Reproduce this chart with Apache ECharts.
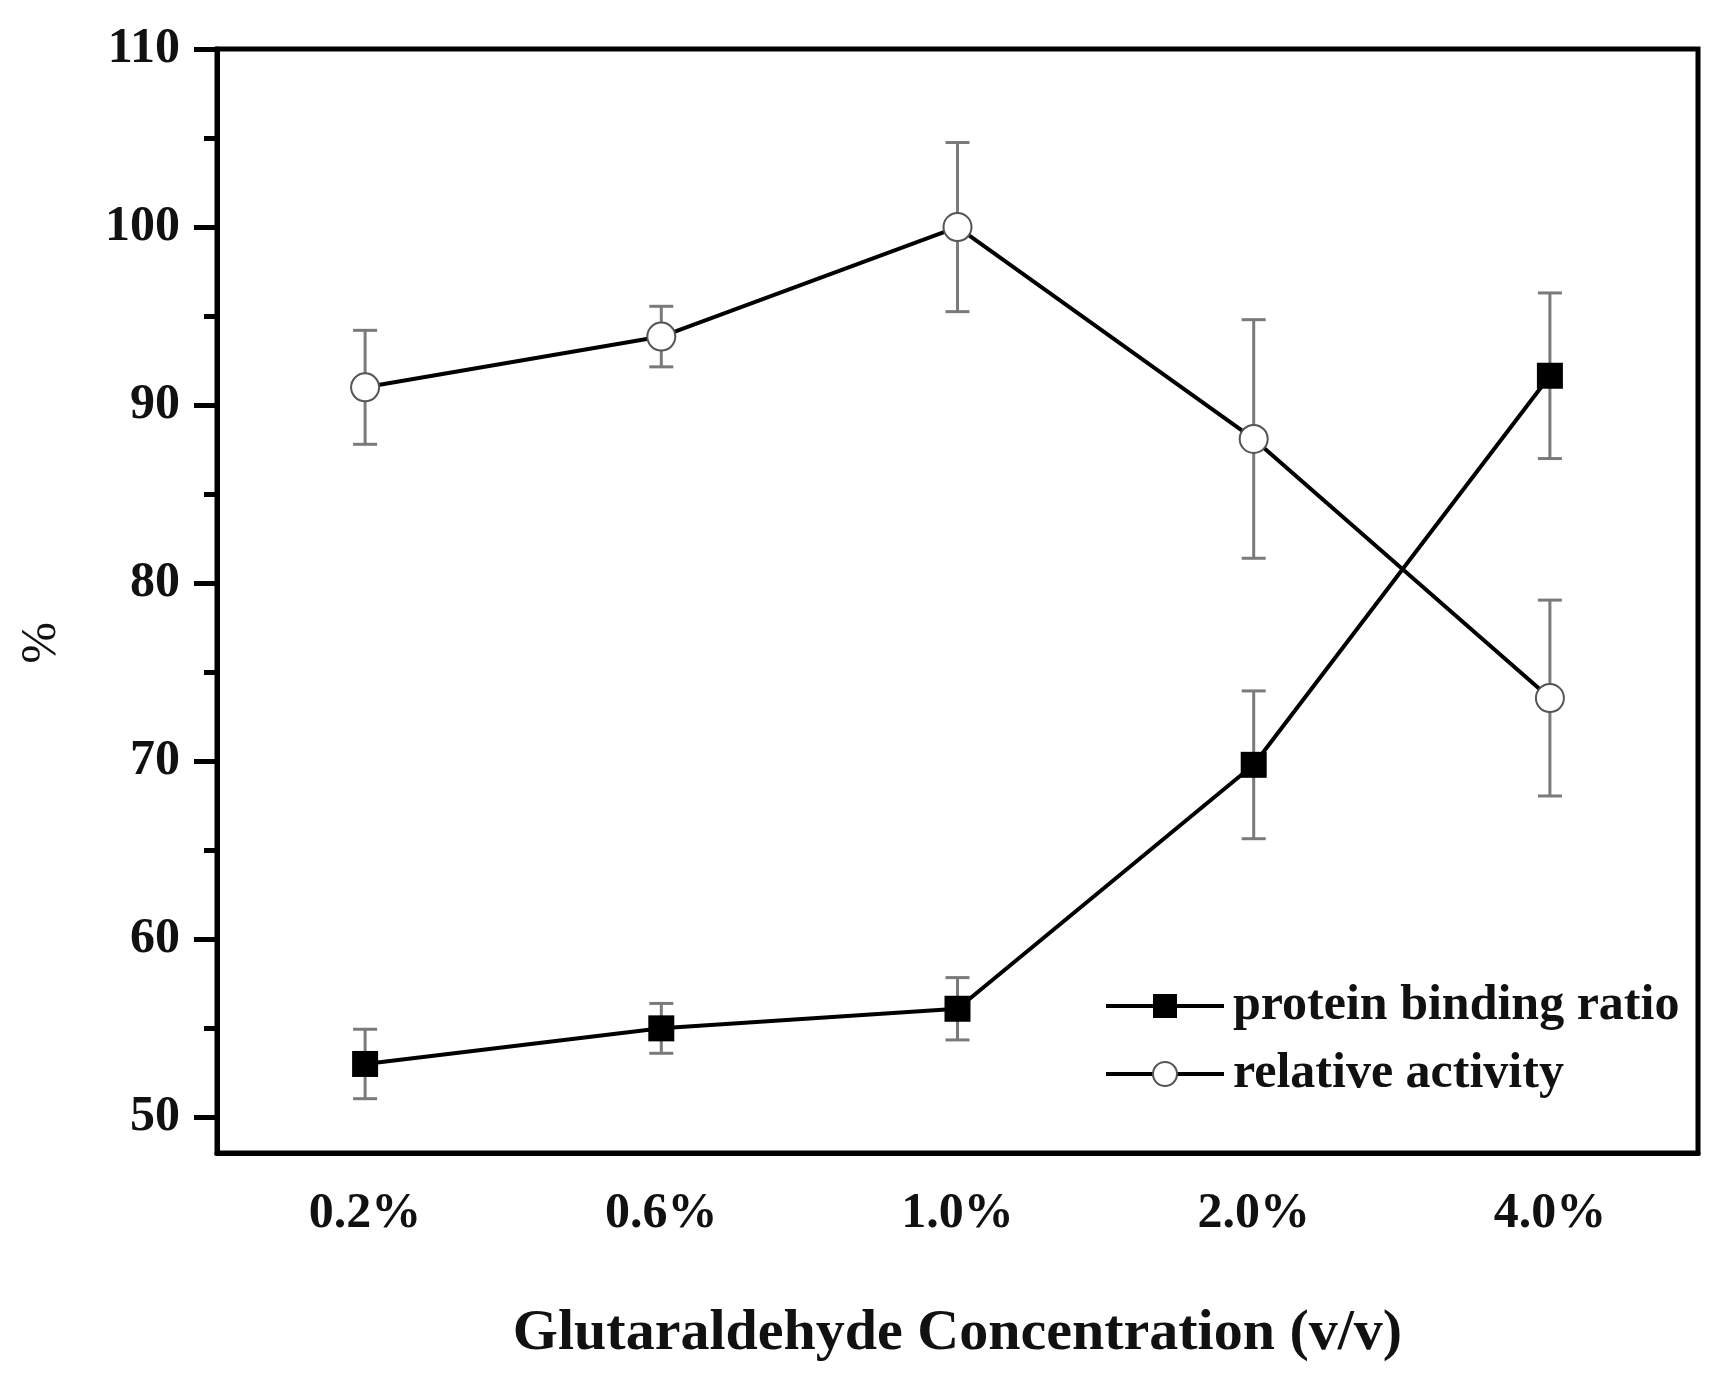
<!DOCTYPE html>
<html>
<head>
<meta charset="utf-8">
<script src="https://cdn.jsdelivr.net/npm/echarts@6/dist/echarts.min.js"></script>
<style>
  html, body { margin: 0; padding: 0; background: #fff; }
  #chart1 { width: 1721px; height: 1373px; }
</style>
</head>
<body>
<div id="chart1"></div>
<script>
// values
var categories = ["0.2%", "0.6%", "1.0%", "2.0%", "4.0%"];
var binding = [53.0, 55.0, 56.1, 69.8, 91.65];
var bindingErr = [1.95, 1.4, 1.75, 4.15, 4.65];
var activity = [91.0, 93.85, 100.0, 88.1, 73.55];
var activityErr = [3.2, 1.7, 4.75, 6.7, 5.5];
var yMajor = [50, 60, 70, 80, 90, 100, 110];
var yMinor = [55, 65, 75, 85, 95, 105];

var font = "'Liberation Serif', 'Times New Roman', serif";

function errData(vals, errs) {
    return vals.map(function (v, i) {
        return [i, v - errs[i], v + errs[i]];
    });
}

function renderErr(params, api) {
    var lo = api.coord([api.value(0), api.value(1)]);
    var hi = api.coord([api.value(0), api.value(2)]);
    var w = 12;
    var st = { stroke: "#7a7a7a", lineWidth: 3 };
    return {
        type: "group",
        children: [
            { type: "line", shape: { x1: lo[0], y1: lo[1], x2: hi[0], y2: hi[1] }, style: st },
            { type: "line", shape: { x1: lo[0] - w, y1: lo[1], x2: lo[0] + w, y2: lo[1] }, style: st },
            { type: "line", shape: { x1: hi[0] - w, y1: hi[1], x2: hi[0] + w, y2: hi[1] }, style: st }
        ]
    };
}

var option = {
    backgroundColor: "#fff",
    animation: false,
    grid: {
        left: 217,
        right: 23,
        top: 49,
        bottom: 220,
        show: true,
        borderColor: "#000",
        borderWidth: 5
    },
    legend: {
        left: 1099,
        top: 976,
        orient: "vertical",
        itemWidth: 118,
        itemHeight: 30,
        itemGap: 18,
        data: ["protein binding ratio", "relative activity"],
        lineStyle: { width: 4, color: "#000" },
        textStyle: {
            fontFamily: font,
            fontWeight: "bold",
            fontSize: 50,
            color: "#111",
            padding: [0, 0, 0, 4]
        }
    },
    xAxis: [
        {
            type: "category",
            data: categories,
            boundaryGap: true,
            name: "Glutaraldehyde Concentration (v/v)",
            nameLocation: "middle",
            nameGap: 152,
            nameTextStyle: {
                fontFamily: font,
                fontWeight: "bold",
                fontSize: 58,
                color: "#111"
            },
            axisLine: { lineStyle: { color: "#000", width: 5 } },
            axisTick: { alignWithLabel: true, length: 25, lineStyle: { color: "#000", width: 5 } },
            axisLabel: {
                margin: 36,
                fontFamily: font,
                fontWeight: "bold",
                fontSize: 50,
                color: "#111"
            },
            splitLine: { show: false }
        },
        {
            type: "category",
            data: categories,
            boundaryGap: true,
            position: "bottom",
            axisLine: { show: false },
            axisTick: { length: 14, lineStyle: { color: "#000", width: 5 } },
            axisLabel: { show: false },
            splitLine: { show: false }
        }
    ],
    yAxis: [
        {
            type: "value",
            min: 48,
            max: 110,
            name: "%",
            nameLocation: "middle",
            nameGap: 150,
            nameTextStyle: {
                fontFamily: font,
                fontSize: 50,
                color: "#111",
                padding: [0, 84, 0, 0]
            },
            axisLine: { show: true, lineStyle: { color: "#000", width: 5 } },
            axisTick: { show: true, length: 23, customValues: yMajor, lineStyle: { color: "#000", width: 5 } },
            axisLabel: {
                customValues: yMajor,
                margin: 37,
                fontFamily: font,
                fontWeight: "bold",
                fontSize: 50,
                color: "#111"
            },
            splitLine: { show: false }
        },
        {
            type: "value",
            min: 48,
            max: 110,
            position: "left",
            axisLine: { show: false },
            axisTick: { show: true, length: 13, customValues: yMinor, lineStyle: { color: "#000", width: 5 } },
            axisLabel: { show: false },
            splitLine: { show: false }
        }
    ],
    series: [
        {
            name: "binding error",
            type: "custom",
            renderItem: renderErr,
            data: errData(binding, bindingErr),
            encode: { x: 0, y: [1, 2] },
            z: 1,
            silent: true
        },
        {
            name: "activity error",
            type: "custom",
            renderItem: renderErr,
            data: errData(activity, activityErr),
            encode: { x: 0, y: [1, 2] },
            z: 1,
            silent: true
        },
        {
            name: "protein binding ratio",
            type: "line",
            data: binding,
            symbol: "rect",
            symbolSize: 26,
            itemStyle: { color: "#000" },
            lineStyle: { color: "#000", width: 4 },
            z: 3
        },
        {
            name: "relative activity",
            type: "line",
            data: activity,
            symbol: "circle",
            symbolSize: 28,
            showAllSymbol: true,
            itemStyle: { color: "#fff", borderColor: "#555", borderWidth: 2 },
            lineStyle: { color: "#000", width: 4 },
            z: 3
        }
    ]
};

var echart_1 = echarts.init(document.getElementById("chart1"));
echart_1.setOption(option);
</script>
</body>
</html>
